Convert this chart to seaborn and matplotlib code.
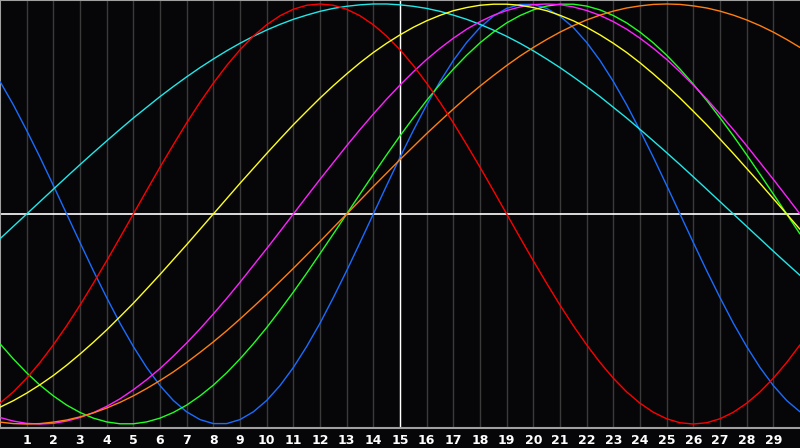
import pandas as pd
import matplotlib.pyplot as plt
import seaborn as sns

# Whole days 0..30 and the half days between them
days = list(range(31))
mid_days = [d + 0.5 for d in range(30)]

blue = [0.631, 0.398, 0.136, -0.136, -0.398, -0.631, -0.817, -0.942, -0.998, -0.979,
        -0.888, -0.731, -0.520, -0.270, 0.000, 0.270, 0.520, 0.731, 0.888, 0.979,
        0.998, 0.942, 0.817, 0.631, 0.398, 0.136, -0.136, -0.398, -0.631, -0.817, -0.942]
blue_mid = [0.520, 0.270, 0.000, -0.270, -0.520, -0.731, -0.888, -0.979, -0.998, -0.942,
            -0.817, -0.631, -0.398, -0.136, 0.136, 0.398, 0.631, 0.817, 0.942, 0.998,
            0.979, 0.888, 0.731, 0.520, 0.270, 0.000, -0.270, -0.520, -0.731, -0.888]

red = [-0.901, -0.782, -0.623, -0.434, -0.223, 0.000, 0.223, 0.434, 0.623, 0.782,
       0.901, 0.975, 1.000, 0.975, 0.901, 0.782, 0.623, 0.434, 0.223, 0.000,
       -0.223, -0.434, -0.623, -0.782, -0.901, -0.975, -1.000, -0.975, -0.901, -0.782, -0.623]
red_mid = [-0.847, -0.707, -0.532, -0.330, -0.112, 0.112, 0.330, 0.532, 0.707, 0.847,
           0.944, 0.994, 0.994, 0.944, 0.847, 0.707, 0.532, 0.330, 0.112, -0.112,
           -0.330, -0.532, -0.707, -0.847, -0.944, -0.994, -0.994, -0.944, -0.847, -0.707]

green = [-0.618, -0.756, -0.866, -0.945, -0.990, -0.999, -0.972, -0.910, -0.815, -0.690,
         -0.541, -0.372, -0.189, 0.000, 0.189, 0.372, 0.541, 0.690, 0.815, 0.910,
         0.972, 0.999, 0.990, 0.945, 0.866, 0.756, 0.618, 0.458, 0.282, 0.095, -0.095]
green_mid = [-0.690, -0.815, -0.910, -0.972, -0.999, -0.990, -0.945, -0.866, -0.756, -0.618,
             -0.458, -0.282, -0.095, 0.095, 0.282, 0.458, 0.618, 0.756, 0.866, 0.945,
             0.990, 0.999, 0.972, 0.910, 0.815, 0.690, 0.541, 0.372, 0.189, 0.000]

magenta = [-0.969, -0.997, -0.997, -0.969, -0.916, -0.837, -0.736, -0.614, -0.476, -0.325,
           -0.165, 0.000, 0.165, 0.325, 0.476, 0.614, 0.736, 0.837, 0.916, 0.969,
           0.997, 0.997, 0.969, 0.916, 0.837, 0.736, 0.614, 0.476, 0.325, 0.165, 0.000]
magenta_mid = [-0.986, -1.000, -0.986, -0.946, -0.880, -0.789, -0.677, -0.547, -0.402, -0.245,
               -0.083, 0.083, 0.245, 0.402, 0.547, 0.677, 0.789, 0.880, 0.946, 0.986,
               1.000, 0.986, 0.946, 0.880, 0.789, 0.677, 0.547, 0.402, 0.245, 0.083]

yellow = [-0.920, -0.853, -0.769, -0.667, -0.552, -0.425, -0.288, -0.146, 0.000, 0.146,
          0.288, 0.425, 0.552, 0.667, 0.769, 0.853, 0.920, 0.968, 0.994, 0.999,
          0.983, 0.946, 0.889, 0.813, 0.720, 0.611, 0.489, 0.357, 0.217, 0.073, -0.073]
yellow_mid = [-0.889, -0.813, -0.720, -0.611, -0.489, -0.357, -0.217, -0.073, 0.073, 0.217,
              0.357, 0.489, 0.611, 0.720, 0.813, 0.889, 0.946, 0.983, 0.999, 0.994,
              0.968, 0.920, 0.853, 0.769, 0.667, 0.552, 0.425, 0.288, 0.146, 0.000]

orange = [-0.991, -1.000, -0.991, -0.966, -0.924, -0.866, -0.793, -0.707, -0.609, -0.500,
          -0.383, -0.259, -0.131, 0.000, 0.131, 0.259, 0.383, 0.500, 0.609, 0.707,
          0.793, 0.866, 0.924, 0.966, 0.991, 1.000, 0.991, 0.966, 0.924, 0.866, 0.793]
orange_mid = [-0.998, -0.998, -0.981, -0.947, -0.897, -0.831, -0.752, -0.659, -0.556, -0.442,
              -0.321, -0.195, -0.065, 0.065, 0.195, 0.321, 0.442, 0.556, 0.659, 0.752,
              0.831, 0.897, 0.947, 0.981, 0.998, 0.998, 0.981, 0.947, 0.897, 0.831]

cyan = [-0.118, 0.000, 0.118, 0.235, 0.348, 0.457, 0.559, 0.653, 0.738, 0.813,
        0.876, 0.927, 0.965, 0.989, 1.000, 0.996, 0.979, 0.947, 0.903, 0.846,
        0.777, 0.697, 0.607, 0.508, 0.403, 0.292, 0.177, 0.059, -0.059, -0.177, -0.292]
cyan_mid = [-0.059, 0.059, 0.177, 0.292, 0.403, 0.508, 0.607, 0.697, 0.777, 0.846,
            0.903, 0.947, 0.979, 0.996, 1.000, 0.989, 0.965, 0.927, 0.876, 0.813,
            0.738, 0.653, 0.559, 0.457, 0.348, 0.235, 0.118, 0.000, -0.118, -0.235]

tick_days = list(range(1, 30))
tick_labels = [str(d) for d in tick_days]

series = {
    'blue': (blue, blue_mid),
    'red': (red, red_mid),
    'green': (green, green_mid),
    'magenta': (magenta, magenta_mid),
    'yellow': (yellow, yellow_mid),
    'orange': (orange, orange_mid),
    'cyan': (cyan, cyan_mid),
}
colors = {
    'blue': '#1a6cff', 'red': '#ff0000', 'green': '#22ff22', 'magenta': '#ff22ff',
    'yellow': '#ffff22', 'orange': '#ff7f10', 'cyan': '#22e8e8',
}

rows = []
for name, (whole, half) in series.items():
    for d, v in zip(days, whole):
        rows.append({'day': d, 'value': v, 'cycle': name})
    for d, v in zip(mid_days, half):
        rows.append({'day': d, 'value': v, 'cycle': name})
df = pd.DataFrame(rows).sort_values(['cycle', 'day'])

sns.set_style('dark')
bg = '#060609'

fig = plt.figure(figsize=(8, 4.48), dpi=100, facecolor=bg)
ax = fig.add_axes([0, 20 / 448, 1, 428 / 448])
ax.set_facecolor(bg)

# vertical day grid
for d in tick_days:
    ax.axvline(d, color='#3a3a3a', lw=1.0, zorder=1)
ax.axvline(15, color='white', lw=1.0, zorder=2)
ax.axhline(0, color='white', lw=1.2, zorder=2)

sns.lineplot(data=df, x='day', y='value', hue='cycle', palette=colors,
             linewidth=1.0, legend=False, ax=ax, zorder=3)

ax.set_xlim(0, 30)
ax.set_ylim(-1.019, 1.019)
ax.set_xticks(tick_days)
ax.set_xticklabels(tick_labels, color='white', fontweight='bold', fontsize=9)
ax.tick_params(axis='x', length=0, pad=4)
ax.set_yticks([])
ax.set_xlabel('')
ax.set_ylabel('')
ax.grid(False)

for side in ['left', 'top', 'bottom']:
    ax.spines[side].set_visible(True)
    ax.spines[side].set_color('#a0a0a0')
    ax.spines[side].set_linewidth(1.5)
ax.spines['right'].set_visible(False)

fig.savefig('out.png', dpi=100, facecolor=bg)
